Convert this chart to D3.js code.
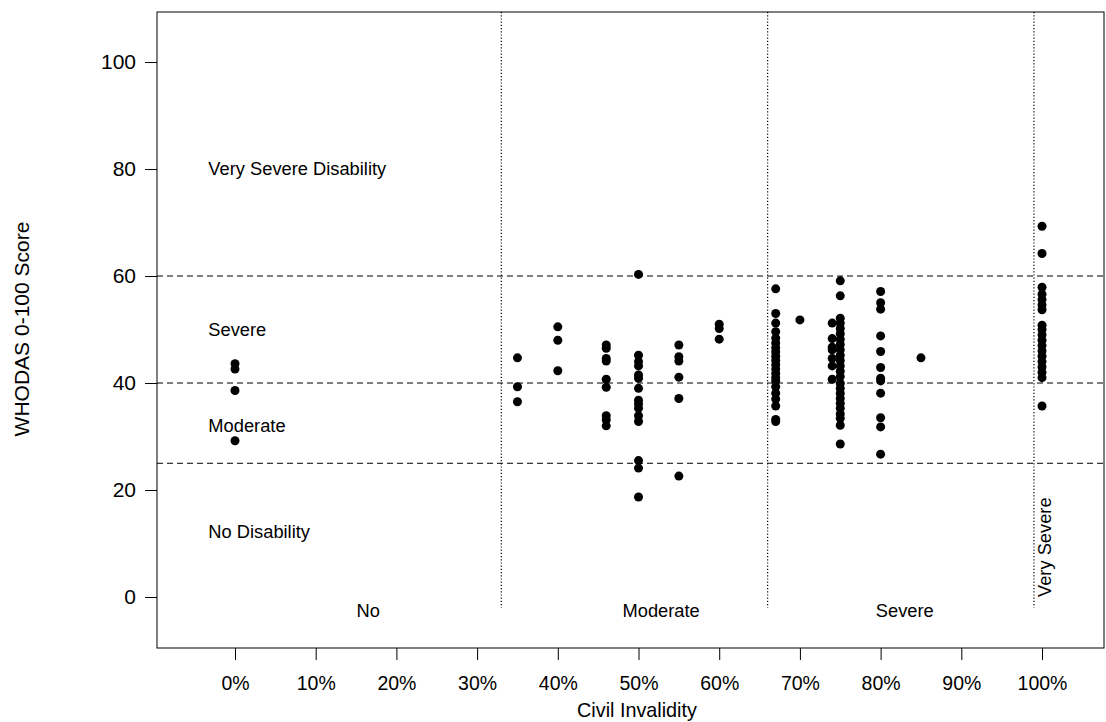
<!DOCTYPE html>
<html>
<head>
<meta charset="utf-8">
<script src="https://cdn.jsdelivr.net/npm/d3@7"></script>
<style>
  body { margin: 0; background: #fff; }
  text { font-family: "Liberation Sans", Arial, sans-serif; fill: #000; }
</style>
</head>
<body>
<div id="chart"></div>
<script>
// civil invalidity (%) for every subject, and the WHODAS score beside it
let invalidity = [
    0, 0, 0, 0,
    35, 35, 35,
    40, 40, 40,
    46, 46, 46, 46, 46, 46, 46, 46, 46,
    50, 50, 50, 50, 50, 50, 50, 50, 50, 50, 50, 50, 50, 50, 50,
    55, 55, 55, 55, 55, 55,
    60, 60, 60,
    67, 67, 67, 67, 67, 67, 67, 67, 67, 67, 67, 67, 67, 67, 67, 67, 67, 67, 67, 67, 67,
    70,
    74, 74, 74, 74, 74, 74, 74,
    75, 75, 75, 75, 75, 75, 75, 75, 75, 75, 75, 75, 75, 75, 75, 75, 75, 75, 75, 75, 75, 75, 75, 75,
    80, 80, 80, 80, 80, 80, 80, 80, 80, 80, 80, 80,
    85,
    100, 100, 100, 100, 100, 100, 100, 100, 100, 100, 100, 100, 100, 100, 100, 100, 100, 100, 100
];
let whodas = [
    43.6, 42.6, 38.6, 29.2,
    44.7, 39.3, 36.5,
    50.5, 48.0, 42.3,
    47.1, 46.5, 44.6, 44.1, 40.7, 39.2, 33.9, 33.1, 32.0,
    60.3, 45.2, 44.0, 43.2, 41.5, 40.9, 39.0, 36.8, 36.1, 35.3, 33.9, 32.8, 25.5, 24.1, 18.7,
    47.1, 44.9, 44.1, 41.1, 37.1, 22.6,
    51.0, 50.2, 48.2,
    57.6, 53.0, 51.2, 49.6, 48.4, 47.5, 46.6, 45.8, 45.0, 44.2, 43.4, 42.6, 41.8, 41.0, 40.4, 39.3, 38.1, 37.0, 35.7, 33.2, 32.8,
    51.8,
    51.2, 48.3, 46.7, 46.2, 44.6, 43.2, 40.7,
    59.1, 56.3, 52.1, 51.2, 50.2, 49.2, 48.2, 47.2, 46.2, 45.2, 44.2, 43.2, 42.2, 41.2, 39.9, 39.0, 38.1, 37.1, 36.2, 35.3, 34.2, 33.4, 32.1, 28.6,
    57.1, 55.0, 53.8, 48.8, 45.9, 42.9, 40.9, 40.4, 38.1, 33.5, 31.8, 26.7,
    44.7,
    69.3, 64.2, 57.9, 56.6, 55.6, 54.6, 53.7, 50.8, 50.0, 49.0, 48.0, 47.0, 46.0, 45.0, 44.0, 43.0, 42.0, 41.0, 35.7
];

let xTicks = [0, 10, 20, 30, 40, 50, 60, 70, 80, 90, 100];
let yTicks = [0, 20, 40, 60, 80, 100];

// WHODAS cut-offs and invalidity class borders
let scoreCuts = [25, 40, 60];
let classCuts = [33, 66, 99];
let scoreBands = ['Very Severe Disability', 'Severe', 'Moderate', 'No Disability'];
let scoreBandAt = [80, 50, 32, 12.3];
let classNames = ['No', 'Moderate', 'Severe'];
let classNameAt = [16.5, 52.8, 83];

let svgWidth = 1106;
let svgHeight = 722;
let margin = { top: 12, right: 2, bottom: 74, left: 157 };

let width = svgWidth - margin.left - margin.right;
let height = svgHeight - margin.top - margin.bottom;

let svg = d3.select('#chart')
    .append('svg')
    .attr('width', svgWidth)
    .attr('height', svgHeight);

let chartgroup = svg.append('g')
    .attr('transform', `translate(${margin.left},${margin.top})`);

let x = d3.scaleLinear().domain([-9.665, 107.68]).range([0, width]);
let y = d3.scaleLinear().domain([-9.53, 109.35]).range([height, 0]);

// axes
let xAxis = chartgroup.append('g')
    .attr('transform', `translate(0,${height})`)
    .call(d3.axisBottom(x).tickValues(xTicks).tickSize(12).tickPadding(16).tickFormat(d => d + '%'));
let yAxis = chartgroup.append('g')
    .call(d3.axisLeft(y).tickValues(yTicks).tickSize(12).tickPadding(9));

[xAxis, yAxis].forEach(a => {
    a.select('.domain').remove();
    a.selectAll('line').attr('stroke', '#000');
    a.selectAll('text').attr('font-family', '"Liberation Sans", Arial, sans-serif');
});
xAxis.selectAll('text').attr('font-size', 19.5);
yAxis.selectAll('text').attr('font-size', 21);

// box
chartgroup.append('rect')
    .attr('width', width)
    .attr('height', height)
    .attr('fill', 'none')
    .attr('stroke', '#000')
    .attr('stroke-width', 1);

// reference lines
chartgroup.selectAll('.hcut')
    .data(scoreCuts)
    .enter()
    .append('line')
    .attr('x1', 0)
    .attr('x2', width)
    .attr('y1', d => y(d))
    .attr('y2', d => y(d))
    .attr('stroke', '#000')
    .attr('stroke-dasharray', '6,4');

chartgroup.selectAll('.vcut')
    .data(classCuts)
    .enter()
    .append('line')
    .attr('x1', d => x(d))
    .attr('x2', d => x(d))
    .attr('y1', 0)
    .attr('y2', y(-2))
    .attr('stroke', '#000')
    .attr('stroke-width', 1.2)
    .attr('stroke-dasharray', '1.2,2');

// points
chartgroup.selectAll('circle')
    .data(invalidity)
    .enter()
    .append('circle')
    .attr('cx', d => x(d))
    .attr('cy', (d, i) => y(whodas[i]))
    .attr('r', 4.5)
    .attr('fill', '#000');

// band labels
chartgroup.selectAll('.band')
    .data(scoreBands)
    .enter()
    .append('text')
    .attr('x', x(-3.3))
    .attr('y', (d, i) => y(scoreBandAt[i]))
    .attr('dy', '0.35em')
    .attr('font-size', 18.3)
    .text(d => d);

chartgroup.selectAll('.cls')
    .data(classNames)
    .enter()
    .append('text')
    .attr('x', (d, i) => x(classNameAt[i]))
    .attr('y', y(-2.6))
    .attr('dy', '0.35em')
    .attr('text-anchor', 'middle')
    .attr('font-size', 18.3)
    .text(d => d);

chartgroup.append('text')
    .attr('transform', `translate(${x(100.3)},${y(0)}) rotate(-90)`)
    .attr('dy', '0.35em')
    .attr('font-size', 18.3)
    .text('Very Severe');

// axis titles
svg.append('text')
    .attr('x', 637)
    .attr('y', 710)
    .attr('dy', '0.35em')
    .attr('text-anchor', 'middle')
    .attr('font-size', 19.8)
    .text('Civil Invalidity');

svg.append('text')
    .attr('transform', 'translate(22,329) rotate(-90)')
    .attr('dy', '0.35em')
    .attr('text-anchor', 'middle')
    .attr('font-size', 21)
    .text('WHODAS 0-100 Score');
</script>
</body>
</html>
